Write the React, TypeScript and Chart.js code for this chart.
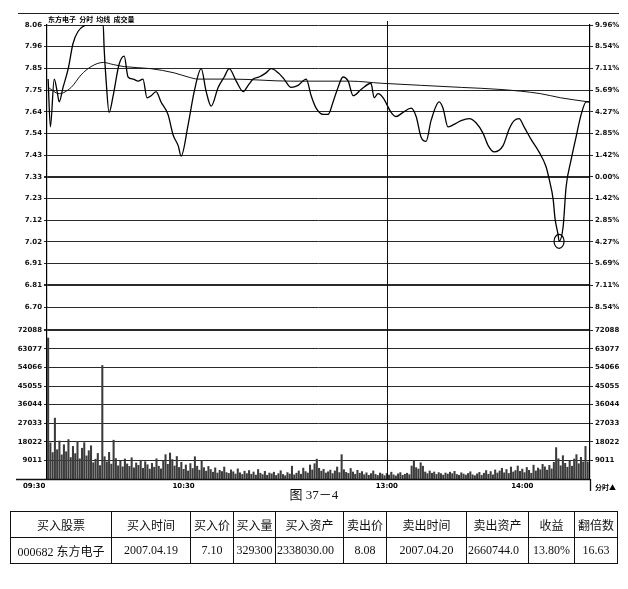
import React, { useEffect, useRef } from "react";
import { Chart, registerables } from "chart.js";

Chart.register(...registerables);

// ---- data ----
const prevClose = 7.33;

const priceMinutes = [0, 1, 2.7, 4, 4.9, 6.6, 8.9, 11, 13.3, 17.7, 24.4, 24.8, 25.7, 27, 28.8, 31.4, 33.7, 35.4, 37.6, 39.9, 42, 43.8, 45.6, 47.8, 50, 53.1, 55.4, 57.6, 58.9, 62, 64.7, 67.8, 70, 72.2, 75.3, 78, 80.2, 83.3, 86.4, 88.6, 90.8, 93.4, 96.5, 98.8, 101.9, 104.5, 107.6, 110.7, 114.3, 116.5, 118.7, 121.8, 124, 126.2, 128.4, 130.6, 132.9, 135.1, 138.6, 143, 144.4, 146.1, 148.4, 151.9, 154.1, 157.2, 160.8, 163, 165.2, 167.4, 169.6, 173.2, 174.9, 177.1, 179.4, 182.9, 186.5, 189.5, 192.6, 194.9, 197.5, 201.5, 204.2, 206.4, 208.6, 210.8, 213.9, 217.4, 220.5, 221.9, 223.7, 224.5, 225.9, 226.3, 228.1, 229.4, 231.6, 233.8, 236.1, 238.3, 239.6];
const priceValues = [7.80, 7.57, 7.80, 7.74, 7.69, 7.76, 7.85, 7.97, 8.03, 8.06, 8.06, 7.95, 7.79, 7.64, 7.72, 7.87, 7.91, 7.81, 7.80, 7.79, 7.80, 7.71, 7.72, 7.74, 7.69, 7.63, 7.53, 7.48, 7.43, 7.58, 7.74, 7.85, 7.74, 7.67, 7.76, 7.81, 7.85, 7.79, 7.74, 7.77, 7.80, 7.81, 7.83, 7.85, 7.83, 7.80, 7.76, 7.77, 7.80, 7.72, 7.66, 7.63, 7.63, 7.69, 7.76, 7.81, 7.79, 7.72, 7.75, 7.78, 7.71, 7.73, 7.71, 7.64, 7.62, 7.64, 7.66, 7.62, 7.52, 7.50, 7.60, 7.69, 7.66, 7.57, 7.58, 7.60, 7.61, 7.59, 7.54, 7.48, 7.45, 7.48, 7.56, 7.60, 7.61, 7.57, 7.51, 7.45, 7.38, 7.32, 7.22, 7.13, 7.05, 7.02, 7.09, 7.28, 7.41, 7.52, 7.63, 7.69, 7.69];

const avgMinutes = [0, 4.9, 10.2, 14.6, 19, 24.4, 28.8, 33.7, 45.6, 55.8, 62, 66.4, 81, 107.6, 134, 147.5, 165, 183, 200.6, 218, 227, 239.6];
const avgValues = [7.76, 7.73, 7.76, 7.82, 7.86, 7.88, 7.87, 7.86, 7.85, 7.83, 7.81, 7.80, 7.80, 7.79, 7.79, 7.78, 7.77, 7.76, 7.75, 7.73, 7.71, 7.69];

const volumeValues = [
  68300, 17500, 12800, 29500, 14200, 18400, 11700, 16600, 13200, 19100,
  10400, 15800, 12300, 18200, 9800, 14900, 17600, 11200, 13700, 16100,
  7900, 9600, 12400, 6500, 55000, 10800, 8300, 12900, 7200, 18800,
  9900, 6400, 8800, 5900, 9700, 7300, 6100, 10300, 5400, 7800,
  6600, 9100, 5200, 8400, 6900, 4800, 7600, 5700, 9800, 6200,
  4900, 8700, 11800, 7100, 12600, 9400, 6300, 10900, 5600, 8100,
  4700, 6800, 3900, 7500, 5100, 10800, 6200, 4300, 8900, 5500,
  3800, 6100, 4600, 3300, 5400, 2900, 4200, 3600, 5800, 3100,
  2700, 4400, 3500, 2400, 4900, 3000, 2200, 3800, 2600, 4100,
  2300, 3400, 1900, 4600, 2800, 2100, 3700, 1800, 2900, 2500,
  3300, 1700, 2600, 4000, 2200, 1600, 3100, 2400, 6200, 2000,
  2800, 3900, 2300, 5300, 3600, 2900, 6800, 4400, 7400, 9600,
  5200, 3800, 4700, 2900, 3500, 4300, 2600, 3900, 5800, 3100,
  11800, 4500, 3200, 2700, 5100, 3400, 2300, 4200, 2800, 3600,
  2100, 3000, 1800, 2600, 3900, 2200, 1700, 2900, 2400, 1600,
  2700, 1900, 3300, 2000, 1500, 2500, 3100, 1800, 2300, 2800,
  2100, 6300, 8700, 5500, 4800, 7900, 6200, 3400, 2600, 3900,
  2800, 3400, 2200, 3100, 2600, 1900, 2900, 2400, 3300, 2600,
  3700, 2200, 1800, 3000, 2400, 1900, 2700, 3500, 2000, 1600,
  2500, 3200, 1800, 2800, 4100, 2300, 3600, 2000, 4400, 2900,
  3900, 5200, 3000, 4600, 2700, 5800, 3400, 4100, 6300, 3700,
  4800, 3100, 5600, 4200, 2800, 6700, 3900, 5300, 4500, 7100,
  5900, 4300, 6600, 4900, 8100, 15200, 9800, 6400, 11300, 7600,
  5700, 8900, 6200, 9700, 11800, 7400, 10500, 8300, 15800, 8300,
];

const priceTickLabels = ["8.06", "7.96", "7.85", "7.75", "7.64", "7.54", "7.43", "7.33", "7.23", "7.12", "7.02", "6.91", "6.81", "6.70"];
const pctTickValues = [9.96, 8.54, 7.11, 5.69, 4.27, 2.85, 1.42, 0, -1.42, -2.85, -4.27, -5.69, -7.11, -8.54];
const pctTickLabels = ["9.96%", "8.54%", "7.11%", "5.69%", "4.27%", "2.85%", "1.42%", "0.00%", "1.42%", "2.85%", "4.27%", "5.69%", "7.11%", "8.54%"];
const volumeTickValues = [72088, 63077, 54066, 45055, 36044, 27033, 18022, 9011];
const volumeTickLabels = ["72088", "63077", "54066", "45055", "36044", "27033", "18022", "9011"];
const volumeMax = 83330;
const timeTickMinutes = [0, 60, 150, 210];
const timeTickLabels = ["09:30", "10:30", "13:00", "14:00"];

const titleText = "东方电子  分时  均线  成交量";
const cornerText = "分时▲";
const captionText = "图 37－4";
const tableHeader = ["买入股票", "买入时间", "买入价", "买入量", "买入资产", "卖出价", "卖出时间", "卖出资产", "收益", "翻倍数"];
const tableRow = ["000682 东方电子", "2007.04.19", "7.10", "329300", "2338030.00", "8.08", "2007.04.20", "2660744.0", "13.80%", "16.63"];
const colWidths = [101, 79, 43, 42, 68, 43, 80, 62, 46, 43];

const tickFont = { size: 7, weight: "bold" as const, family: "DejaVu Sans" };

export default function App() {
  const ref = useRef<HTMLCanvasElement | null>(null);

  useEffect(() => {
    if (!ref.current) return;
    const pctToPrice = (p: number) => prevClose * (1 + p / 100);
    const priceTicks = pctTickValues.map(pctToPrice);

    const overlay = {
      id: "overlay",
      afterDraw(chart: any) {
        const ctx = chart.ctx as CanvasRenderingContext2D;
        const area = chart.chartArea;
        const xs = chart.scales.x;
        const ys = chart.scales.price;
        ctx.save();
        // top frame line
        ctx.strokeStyle = "#222";
        ctx.lineWidth = 1.2;
        ctx.beginPath();
        ctx.moveTo(18, 13.5);
        ctx.lineTo(619, 13.5);
        ctx.stroke();
        // title
        ctx.fillStyle = "#000";
        ctx.font = "bold 7px 'Noto Sans CJK SC'";
        ctx.textBaseline = "middle";
        ctx.textAlign = "left";
        ctx.fillText(titleText, area.left + 1, 19);
        // 13:00 vertical line
        const x13 = xs.getPixelForValue(150);
        ctx.strokeStyle = "#111";
        ctx.lineWidth = 1;
        ctx.beginPath();
        ctx.moveTo(Math.round(x13) + 0.5, area.top - 4);
        ctx.lineTo(Math.round(x13) + 0.5, area.bottom);
        ctx.stroke();
        // baseline
        ctx.lineWidth = 1.3;
        ctx.beginPath();
        ctx.moveTo(16, area.bottom + 0.5);
        ctx.lineTo(area.right, area.bottom + 0.5);
        ctx.stroke();
        ctx.beginPath();
        ctx.moveTo(area.right + 0.5, area.bottom);
        ctx.lineTo(area.right + 0.5, area.bottom + 12);
        ctx.stroke();
        // time labels
        ctx.font = "bold 7px 'DejaVu Sans'";
        ctx.textAlign = "center";
        timeTickMinutes.forEach((m, i) => {
          let px = xs.getPixelForValue(m);
          if (i === 0) px = px - 14;
          ctx.fillText(timeTickLabels[i], px, area.bottom + 7);
        });
        ctx.textAlign = "left";
        ctx.font = "bold 7px 'Noto Sans CJK SC'";
        ctx.fillText(cornerText, area.right + 5, area.bottom + 8);
        // circle around the low
        let mi = 0;
        priceValues.forEach((v, i) => { if (v < priceValues[mi]) mi = i; });
        const cx = xs.getPixelForValue(priceMinutes[mi]);
        const cy = ys.getPixelForValue(priceValues[mi]);
        ctx.strokeStyle = "#000";
        ctx.lineWidth = 1.2;
        ctx.beginPath();
        ctx.ellipse(cx, cy, 5, 7, 0, 0, Math.PI * 2);
        ctx.stroke();
        ctx.restore();
      },
    };

    const axisTicks = {
      autoSkip: false,
      padding: 2,
      color: "#111",
      font: tickFont,
    };

    const chart = new Chart(ref.current, {
      type: "bar",
      data: {
        datasets: [
          {
            type: "line",
            data: priceMinutes.map((m, i) => ({ x: m, y: priceValues[i] })),
            yAxisID: "price",
            borderColor: "#000",
            borderWidth: 1.3,
            pointRadius: 0,
            cubicInterpolationMode: "monotone",
            order: 1,
          } as any,
          {
            type: "line",
            data: avgMinutes.map((m, i) => ({ x: m, y: avgValues[i] })),
            yAxisID: "price",
            borderColor: "#111",
            borderWidth: 1,
            pointRadius: 0,
            cubicInterpolationMode: "monotone",
            order: 2,
          } as any,
          {
            type: "bar",
            data: volumeValues.map((v, i) => ({ x: i, y: v })),
            yAxisID: "volume",
            backgroundColor: "#3c3c3c",
            barThickness: 1.4,
            order: 3,
          } as any,
        ],
      },
      options: {
        animation: false,
        responsive: false,
        events: [],
        layout: { padding: { top: 25, bottom: 21, left: 0, right: 0 } },
        plugins: { legend: { display: false }, tooltip: { enabled: false } },
        scales: {
          x: {
            type: "linear",
            min: -0.5,
            max: 240,
            offset: false,
            display: false,
            grid: { offset: false },
          },
          volume: {
            type: "linear",
            position: "left",
            stack: "left",
            stackWeight: 172,
            min: 0,
            max: volumeMax,
            afterBuildTicks: (s: any) => {
              s.ticks = [...volumeTickValues].reverse().map((v) => ({ value: v }));
            },
            afterFit: (s: any) => { s.width = 47; },
            ticks: {
              ...axisTicks,
              callback: (v: any) => {
                const idx = volumeTickValues.indexOf(v);
                return idx >= 0 ? volumeTickLabels[idx] : "";
              },
            },
            grid: {
              color: "#2a2a2a",
              tickLength: 3,
              lineWidth: (c: any) => (c.tick && c.tick.value === 72088 ? 2 : 1),
            },
            border: { display: true, color: "#000", width: 1.2 },
          },
          price: {
            type: "linear",
            position: "left",
            stack: "left",
            stackWeight: 282,
            min: pctToPrice(-8.54),
            max: pctToPrice(9.96),
            afterBuildTicks: (s: any) => {
              s.ticks = [...priceTicks].reverse().map((v) => ({ value: v }));
            },
            afterFit: (s: any) => { s.width = 47; },
            ticks: {
              ...axisTicks,
              callback: (v: any) => {
                const idx = priceTicks.findIndex((t) => Math.abs(t - v) < 1e-6);
                return idx >= 0 ? priceTickLabels[idx] : "";
              },
            },
            grid: {
              color: "#2a2a2a",
              tickLength: 3,
              lineWidth: (c: any) => {
                const v = c.tick ? c.tick.value : 0;
                return Math.abs(v - prevClose) < 1e-6 || Math.abs(v - pctToPrice(-7.11)) < 1e-6 ? 2 : 1;
              },
            },
            border: { display: true, color: "#000", width: 1.2 },
          },
          pct: {
            type: "linear",
            position: "right",
            stack: "right",
            stackWeight: 282,
            min: -8.54,
            max: 9.96,
            afterBuildTicks: (s: any) => {
              s.ticks = [...pctTickValues].reverse().map((v) => ({ value: v }));
            },
            afterFit: (s: any) => { s.width = 38; },
            ticks: {
              ...axisTicks,
              callback: (v: any) => {
                const idx = pctTickValues.findIndex((t) => Math.abs(t - v) < 1e-6);
                return idx >= 0 ? pctTickLabels[idx] : "";
              },
            },
            grid: { drawOnChartArea: false, tickLength: 3, color: "#222" },
            border: { display: true, color: "#000", width: 1.2 },
          },
          volR: {
            type: "linear",
            position: "right",
            stack: "right",
            stackWeight: 172,
            min: 0,
            max: volumeMax,
            afterBuildTicks: (s: any) => {
              s.ticks = [...volumeTickValues].reverse().map((v) => ({ value: v }));
            },
            afterFit: (s: any) => { s.width = 38; },
            ticks: {
              ...axisTicks,
              callback: (v: any) => {
                const idx = volumeTickValues.indexOf(v);
                return idx >= 0 ? volumeTickLabels[idx] : "";
              },
            },
            grid: { drawOnChartArea: false, tickLength: 3, color: "#222" },
            border: { display: true, color: "#000", width: 1.2 },
          },
        } as any,
      },
      plugins: [overlay],
    });
    return () => chart.destroy();
  }, []);

  const cellBase: React.CSSProperties = {
    border: "1px solid #111",
    padding: "0 1px",
    textAlign: "center",
    whiteSpace: "nowrap",
    overflow: "hidden",
    height: 25,
    fontSize: 12,
    color: "#111",
  };

  return (
    <div style={{ position: "absolute", left: 0, top: 0, width: 628, height: 589, background: "#fff" }}>
      <canvas ref={ref} width={628} height={500} style={{ position: "absolute", left: 0, top: 0 }} />
      <div
        style={{
          position: "absolute",
          left: 0,
          top: 484,
          width: 628,
          textAlign: "center",
          fontFamily: "'Liberation Serif', 'Noto Sans CJK SC'",
          fontSize: 13,
          color: "#111",
        }}
      >
        {captionText}
      </div>
      <table
        style={{
          position: "absolute",
          left: 10,
          top: 511,
          borderCollapse: "collapse",
          tableLayout: "fixed",
          width: colWidths.reduce((a, b) => a + b, 0),
          fontFamily: "'Liberation Serif', 'Noto Sans CJK SC'",
          border: "1.5px solid #000",
        }}
      >
        <colgroup>
          {colWidths.map((w, i) => (
            <col key={i} style={{ width: w }} />
          ))}
        </colgroup>
        <tbody>
          <tr>
            {tableHeader.map((h, i) => (
              <td key={i} style={cellBase}>{h}</td>
            ))}
          </tr>
          <tr>
            {tableRow.map((h, i) => (
              <td key={i} style={{ ...cellBase, textAlign: i === 4 || i === 7 ? "left" : "center" }}>{h}</td>
            ))}
          </tr>
        </tbody>
      </table>
    </div>
  );
}
